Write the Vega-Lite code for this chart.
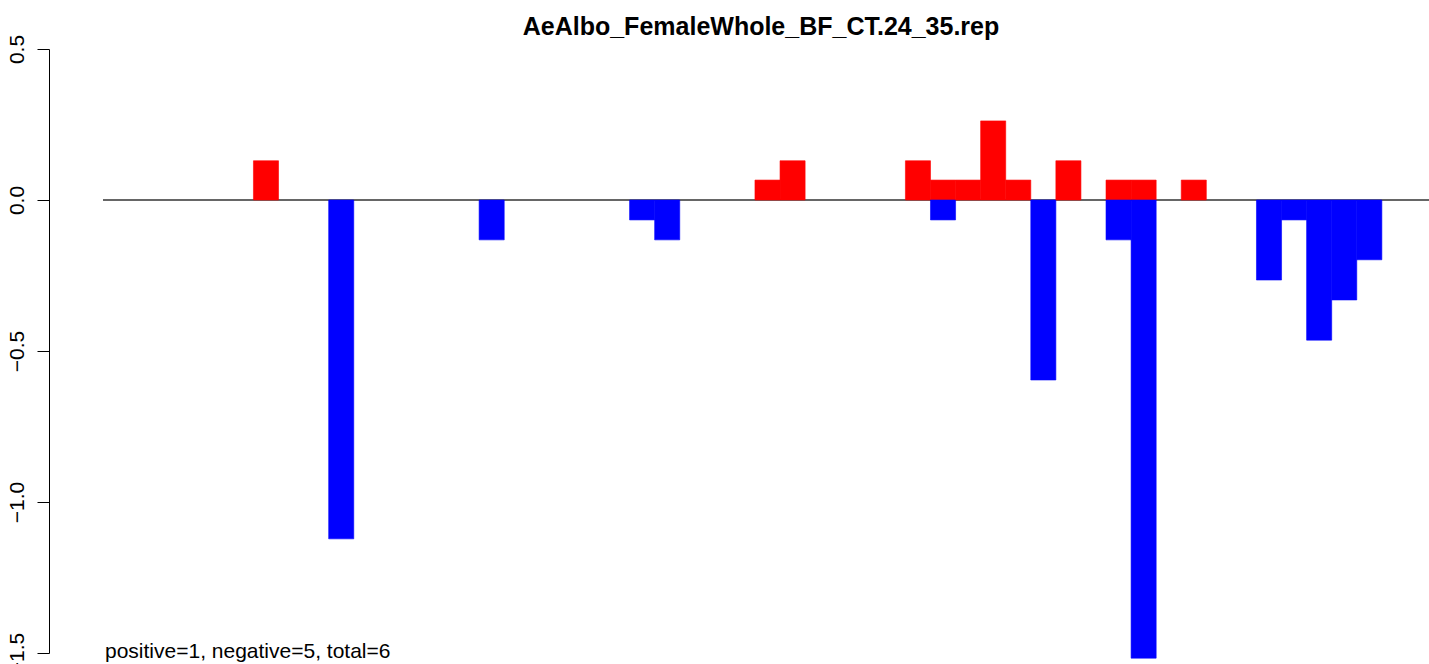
{
  "$schema": "https://vega.github.io/schema/vega-lite/v6.json",
  "autosize": "none",
  "width": 1329,
  "height": 604,
  "padding": {"left": 103, "top": 49, "right": 0, "bottom": 11},
  "background": "white",
  "config": {"view": {"stroke": null}, "font": "Liberation Sans"},
  "title": {
    "text": "AeAlbo_FemaleWhole_BF_CT.24_35.rep",
    "anchor": "middle",
    "frame": "group",
    "dx": -6.5,
    "dy": 26,
    "font": "Liberation Sans",
    "fontSize": 25,
    "fontWeight": "bold",
    "color": "black",
    "baseline": "alphabetic",
    "offset": 0
  },
  "layer": [
    {
      "data": {"values": [{"zero": 0}]},
      "mark": {"type": "rule", "color": "#333333", "strokeWidth": 1.3},
      "encoding": {"y": {"field": "zero", "type": "quantitative"}}
    },
    {
      "data": {
        "values": [
          {"slot": 6, "sign": "pos", "value": 0.13},
          {"slot": 9, "sign": "neg", "value": -1.122},
          {"slot": 15, "sign": "neg", "value": -0.132},
          {"slot": 21, "sign": "neg", "value": -0.066},
          {"slot": 22, "sign": "neg", "value": -0.132},
          {"slot": 26, "sign": "pos", "value": 0.066},
          {"slot": 27, "sign": "pos", "value": 0.13},
          {"slot": 32, "sign": "pos", "value": 0.13},
          {"slot": 33, "sign": "pos", "value": 0.066},
          {"slot": 33, "sign": "neg", "value": -0.066},
          {"slot": 34, "sign": "pos", "value": 0.066},
          {"slot": 35, "sign": "pos", "value": 0.262},
          {"slot": 36, "sign": "pos", "value": 0.066},
          {"slot": 37, "sign": "neg", "value": -0.596},
          {"slot": 38, "sign": "pos", "value": 0.13},
          {"slot": 40, "sign": "pos", "value": 0.066},
          {"slot": 40, "sign": "neg", "value": -0.132},
          {"slot": 41, "sign": "pos", "value": 0.066},
          {"slot": 41, "sign": "neg", "value": -1.517},
          {"slot": 43, "sign": "pos", "value": 0.066},
          {"slot": 46, "sign": "neg", "value": -0.265},
          {"slot": 47, "sign": "neg", "value": -0.066},
          {"slot": 48, "sign": "neg", "value": -0.464},
          {"slot": 49, "sign": "neg", "value": -0.331},
          {"slot": 50, "sign": "neg", "value": -0.198}
        ]
      },
      "mark": {"type": "bar", "clip": false, "strokeWidth": 0.6},
      "encoding": {
        "x": {
          "field": "slot",
          "type": "ordinal",
          "axis": null,
          "scale": {
            "domain": [0,1,2,3,4,5,6,7,8,9,10,11,12,13,14,15,16,17,18,19,20,21,22,23,24,25,26,27,28,29,30,31,32,33,34,35,36,37,38,39,40,41,42,43,44,45,46,47,48,49,50,51,52],
            "paddingInner": 0,
            "paddingOuter": 0
          }
        },
        "y": {
          "field": "value",
          "type": "quantitative",
          "stack": null,
          "scale": {"domain": [-1.5, 0.5], "nice": false, "zero": false},
          "axis": {
            "title": null,
            "values": [-1.5, -1.0, -0.5, 0.0, 0.5],
            "format": ".1f",
            "offset": 54,
            "grid": false,
            "domainColor": "black",
            "domainWidth": 1,
            "tickColor": "black",
            "tickWidth": 1,
            "tickSize": 12,
            "labelAngle": 270,
            "labelAlign": "center",
            "labelBaseline": "bottom",
            "labelPadding": 10,
            "labelFont": "Liberation Sans",
            "labelFontSize": 21,
            "labelColor": "black",
            "labelOverlap": false,
            "labelBound": false,
            "labelFlush": false
          }
        },
        "color": {
          "field": "sign",
          "type": "nominal",
          "scale": {"domain": ["pos", "neg"], "range": ["#FF0000", "#0000FF"]},
          "legend": null
        },
        "stroke": {
          "field": "sign",
          "type": "nominal",
          "scale": {"domain": ["pos", "neg"], "range": ["#FF0000", "#0000FF"]},
          "legend": null
        }
      }
    },
    {
      "data": {"values": [{"note": "positive=1, negative=5, total=6"}]},
      "mark": {"type": "text", "align": "left", "baseline": "alphabetic", "fontSize": 21, "font": "Liberation Sans", "color": "black", "dx": 2, "dy": 5},
      "encoding": {
        "x": {"datum": 0, "type": "ordinal", "bandPosition": 0},
        "y": {"datum": -1.5, "type": "quantitative"},
        "text": {"field": "note"}
      }
    }
  ]
}
